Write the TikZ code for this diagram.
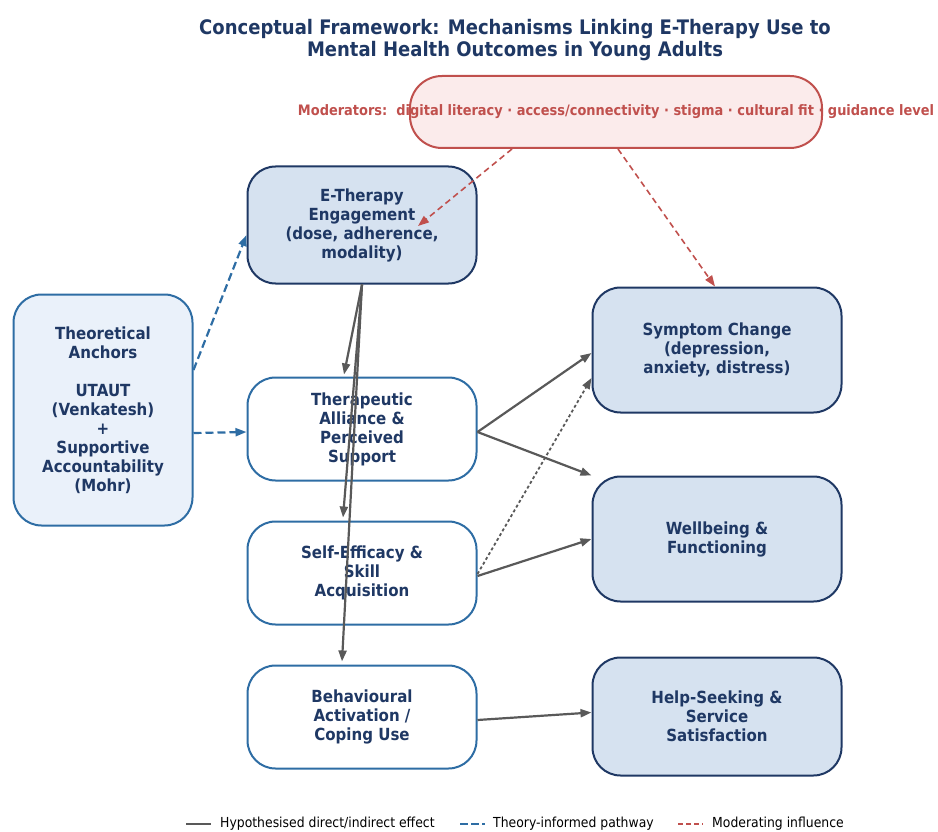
\documentclass[tikz,border=0pt]{standalone}
\usepackage{fontspec}
\setmainfont[FakeStretch=0.9]{DejaVu Sans}
\usepackage{xcolor}
\usepackage{tikz}
\usetikzlibrary{arrows.meta}
\usetikzlibrary{positioning}
\definecolor{navy}{HTML}{1F3864}
\definecolor{midblue}{HTML}{2E6DA4}
\definecolor{paleblue}{HTML}{D6E2F0}
\definecolor{lightblue}{HTML}{EAF1FA}
\definecolor{modred}{HTML}{C0504D}
\definecolor{palered}{HTML}{FBEBEB}
\definecolor{arrowgray}{HTML}{595959}
\tikzstyle{boxtext} = [text=navy, align=center, font=\bfseries\fontsize{16.7}{19}\selectfont]
\tikzstyle{outcome} = [boxtext, rectangle, rounded corners=28pt, minimum width=249pt, minimum height=125pt, inner sep=0pt, draw=navy, line width=2pt, fill=paleblue]
\tikzstyle{mediator} = [boxtext, rectangle, rounded corners=28pt, minimum width=229pt, minimum height=103pt, inner sep=0pt, draw=midblue, line width=2pt, fill=white]
\tikzstyle{arrow} = [line width=2.2pt, draw=arrowgray, -{Triangle[length=11pt,width=8pt]}]
\tikzstyle{theory} = [line width=2.2pt, draw=midblue, dash pattern=on 8pt off 4pt, -{Triangle[length=11pt,width=8pt]}]
\tikzstyle{moderate} = [line width=1.6pt, draw=modred, dash pattern=on 6pt off 4pt, -{Triangle[length=11pt,width=8pt]}]

\begin{document}
\begin{tikzpicture}[x=1pt, y=-1pt]
    \useasboundingbox (0,0) rectangle (938,832);
    \node(title)[text=navy, align=center, font=\bfseries\fontsize{20}{22}\selectfont] at (515,40) {Conceptual Framework: Mechanisms Linking E-Therapy Use to\\Mental Health Outcomes in Young Adults};
    %
    \node(mod)[rectangle, rounded corners=32pt, minimum width=412pt, minimum height=72pt, draw=modred, line width=2pt, fill=palered] at (616,112) {};
    \node(modtext)[text=modred, font=\bfseries\fontsize{14.4}{16}\selectfont] at (mod.center) {Moderators:\ \ digital literacy · access/connectivity · stigma · cultural fit · guidance level};
    %
    \node(anchors)[boxtext, rectangle, rounded corners=28pt, minimum width=179pt, minimum height=231pt, inner sep=0pt, draw=midblue, line width=2pt, fill=lightblue] at (103,410) {Theoretical\\Anchors\\[19pt]UTAUT\\(Venkatesh)\\+\\Supportive\\Accountability\\(Mohr)};
    \node(eng)[outcome, minimum width=229pt, minimum height=117pt] at (362,225) {E-Therapy\\Engagement\\(dose, adherence,\\modality)};
    \node(alliance)[mediator, below=92pt of eng] {Therapeutic\\Alliance \&\\Perceived\\Support};
    \node(selfeff)[mediator, below=39pt of alliance] {Self-Efficacy \&\\Skill\\Acquisition};
    \node(behav)[mediator, below=39pt of selfeff] {Behavioural\\Activation /\\Coping Use};
    %
    \node(symptom)[outcome] at (717,350) {Symptom Change\\(depression,\\anxiety, distress)};
    \node(wellbeing)[outcome, below=62pt of symptom] {Wellbeing \&\\Functioning};
    \node(help)[outcome, minimum height=118pt, below=54pt of wellbeing] {Help-Seeking \&\\Service\\Satisfaction};
    %
    \draw[theory] ([yshift=40pt]anchors.east) -- ([yshift=-10pt]eng.west);
    \draw[theory] ([yshift=-23pt]anchors.east) -- ([yshift=-3pt]alliance.west);
    %
    \draw[moderate] ([xshift=-104pt]mod.south) -- ([xshift=56pt,yshift=-1pt]eng.center);
    \draw[moderate] ([xshift=2pt]mod.south) -- ([xshift=-2pt]symptom.north);
    %
    \draw[arrow] (eng.south) -- ([xshift=-18pt,yshift=2pt]alliance.north);
    \draw[arrow] (eng.south) -- ([xshift=-19pt,yshift=3pt]selfeff.north);
    \draw[arrow] (eng.south) -- ([xshift=-20pt,yshift=3pt]behav.north);
    \draw[arrow] ([yshift=-3pt]alliance.east) -- ([yshift=-3pt]symptom.west);
    \draw[arrow] ([yshift=-3pt]alliance.east) -- (wellbeing.north west);
    \draw[arrow] ([yshift=-3pt]selfeff.east) -- (wellbeing.west);
    \draw[arrow, line width=1.8pt, dash pattern=on 3pt off 2.5pt] ([yshift=-1pt]selfeff.east) -- ([yshift=-28pt]symptom.west);
    \draw[arrow] ([yshift=-3pt]behav.east) -- ([yshift=4pt]help.west);
    %
    \coordinate(k1a) at (186,824); \coordinate(k1b) at (211,824);
    \coordinate(k2a) at (460,824); \coordinate(k2b) at (485,824);
    \coordinate(k3a) at (678,824); \coordinate(k3b) at (703,824);
    \draw[line width=2.2pt, draw=arrowgray] (k1a) -- (k1b);
    \draw[line width=2.2pt, draw=midblue, dash pattern=on 8pt off 3pt] (k2a) -- (k2b);
    \draw[line width=1.6pt, draw=modred, dash pattern=on 5pt off 3pt] (k3a) -- (k3b);
    \node(key1)[right=9pt of k1b, inner sep=0pt, font=\fontsize{13.8}{14}\selectfont] {Hypothesised direct/indirect effect};
    \node(key2)[right=8pt of k2b, inner sep=0pt, font=\fontsize{13.8}{14}\selectfont] {Theory-informed pathway};
    \node(key3)[right=9pt of k3b, inner sep=0pt, font=\fontsize{13.8}{14}\selectfont] {Moderating influence};
  \end{tikzpicture}
\end{document}
